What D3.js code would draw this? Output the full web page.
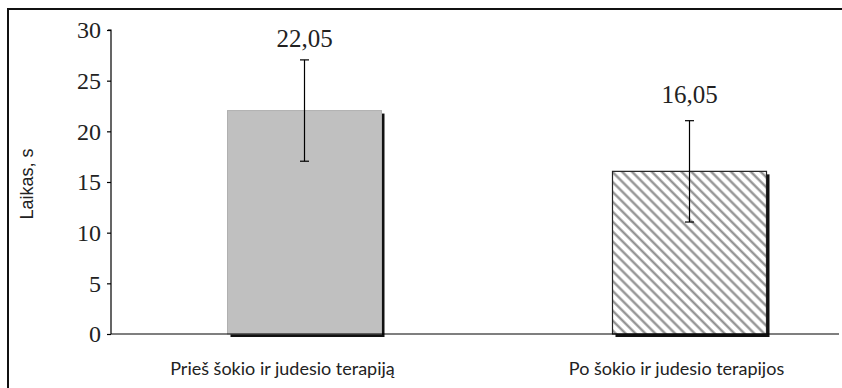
<!DOCTYPE html>
<html><head><meta charset="utf-8">
<script src="https://cdn.jsdelivr.net/npm/d3@7"></script>
<style>body{margin:0;background:#fff}svg{display:block}</style>
</head><body>
<svg id="c" width="842" height="388"></svg>
<script>
const categories = ["Prieš šokio ir judesio terapiją", "Po šokio ir judesio terapijos"];
const values = [22.05, 16.05];
const errors = [5.0, 5.0];
const valueLabels = ["22,05", "16,05"];
const yTicks = [0, 5, 10, 15, 20, 25, 30];
const yTitle = "Laikas, s";

const svg = d3.select("#c");
const y = d3.scaleLinear().domain([0, 30]).range([334, 30]);
const x = d3.scaleBand().domain(categories).range([112, 882]).paddingInner(0.6).paddingOuter(0.3);
const serif = "Liberation Serif, Times New Roman, serif";

const defs = svg.append("defs");
const pat = defs.append("pattern").attr("id","hatch").attr("patternUnits","userSpaceOnUse")
  .attr("width",7).attr("height",7).attr("patternTransform","rotate(45)");
pat.append("rect").attr("width",7).attr("height",7).attr("fill","#fff");
pat.append("line").attr("x1",0).attr("y1",3.5).attr("x2",7).attr("y2",3.5)
  .attr("stroke","#8a8a8a").attr("stroke-width",2.2);

// frame
svg.append("rect").attr("x",8).attr("y",9).attr("width",900).attr("height",500)
  .attr("fill","none").attr("stroke","#111").attr("stroke-width",2);

// bars with shadows
const g = svg.append("g");
categories.forEach((c,i)=>{
  const bx = x(c), bw = x.bandwidth(), by = y(values[i]), bh = y(0)-y(values[i]);
  g.append("rect").attr("x",bx+3).attr("y",by+3).attr("width",bw).attr("height",bh).attr("fill","#111");
  if(i===0){
    g.append("rect").attr("x",bx).attr("y",by).attr("width",bw).attr("height",bh)
      .attr("fill","#c0c0c0").attr("stroke","#b0b0b0").attr("stroke-width",1);
  } else {
    g.append("rect").attr("x",bx).attr("y",by).attr("width",bw).attr("height",bh)
      .attr("fill","url(#hatch)").attr("stroke","#222").attr("stroke-width",1.2);
  }
});

// x axis line
svg.append("line").attr("x1",111).attr("x2",839).attr("y1",y(0)).attr("y2",y(0))
  .attr("stroke","#000").attr("stroke-width",1.2);

// error bars + value labels
const labelGaps = [13, 18];
categories.forEach((c,i)=>{
  const cx = x(c)+x.bandwidth()/2;
  const t = y(values[i]+errors[i]), b = y(values[i]-errors[i]);
  svg.append("line").attr("x1",cx).attr("x2",cx).attr("y1",t).attr("y2",b).attr("stroke","#000").attr("stroke-width",1.2);
  [t,b].forEach(v=>svg.append("line").attr("x1",cx-4.5).attr("x2",cx+4.5).attr("y1",v).attr("y2",v).attr("stroke","#000").attr("stroke-width",1.2));
  svg.append("text").attr("x",cx).attr("y",t-labelGaps[i]).attr("text-anchor","middle")
    .attr("font-family",serif).attr("font-size",25).attr("fill","#222")
    .text(valueLabels[i]);
});

// y axis
const ya = svg.append("g").attr("transform","translate(111,0)")
  .call(d3.axisLeft(y).tickValues(yTicks).tickSize(4).tickPadding(6).tickFormat(d3.format("d")));
ya.select(".domain").attr("stroke","#000").attr("stroke-width",1.2).attr("d","M-0,334V30H-3");
ya.selectAll(".tick line").attr("stroke","#000").attr("stroke-width",1.2);
ya.selectAll(".tick text").attr("font-family",serif).attr("font-size",24).attr("fill","#222").attr("dy","0.32em");

// y title
svg.append("text").attr("transform","translate(33,184) rotate(-90)").attr("text-anchor","middle")
  .attr("font-family","Liberation Sans, Arial, sans-serif").attr("font-size",18).attr("fill","#222").text(yTitle);

// category labels
const labelOffsets = [-22, -13];
categories.forEach((c,i)=>{
  svg.append("text").attr("x",x(c)+x.bandwidth()/2+labelOffsets[i]).attr("y",375).attr("text-anchor","middle")
    .attr("font-family","Lato, Open Sans, sans-serif").attr("font-size",18).attr("fill","#222").text(c);
});
</script>
</body></html>
